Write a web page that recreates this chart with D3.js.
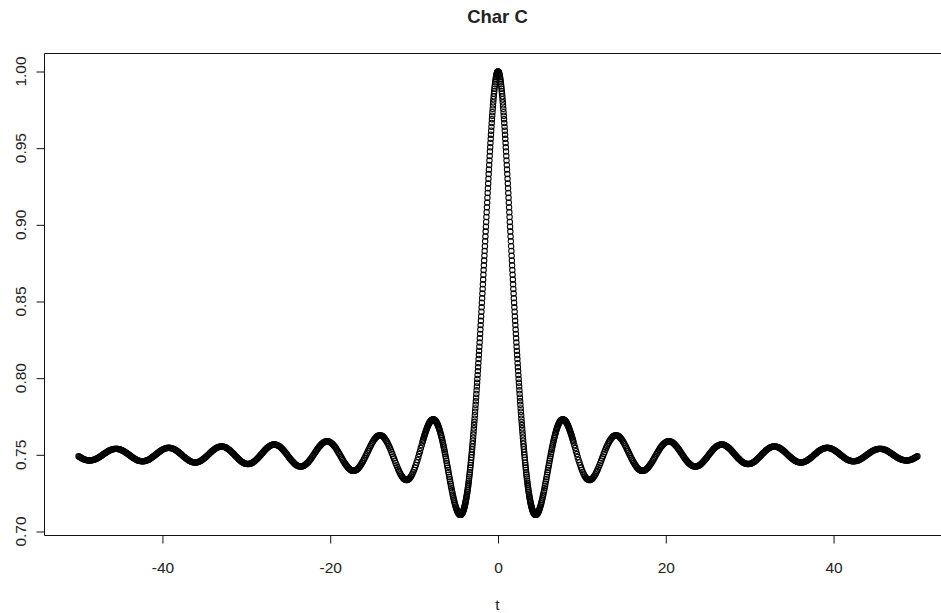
<!DOCTYPE html>
<html>
<head>
<meta charset="utf-8">
<script src="https://cdn.jsdelivr.net/npm/d3@7"></script>
<style>
  body { margin: 0; background: #fff; }
  svg { display: block; }
  text { font-family: "Liberation Sans", Arial, Helvetica, sans-serif; fill: #222; }
</style>
</head>
<body>
<svg id="chart" width="941" height="613"></svg>
<script>
// Characteristic function C(t), sampled on t >= 0; the curve is even, so t < 0 mirrors it.
// Fine sampling around the central peak, coarser along the damped tail.
const charNear = [ // t = 0.00 .. 4.50, step 0.03
  1.0000,0.9999,0.9998,0.9995,0.9991,0.9985,0.9979,0.9972,0.9963,0.9953,
  0.9942,0.9930,0.9917,0.9903,0.9888,0.9872,0.9856,0.9838,0.9819,0.9799,
  0.9779,0.9757,0.9735,0.9712,0.9689,0.9664,0.9639,0.9614,0.9588,0.9561,
  0.9534,0.9506,0.9478,0.9449,0.9420,0.9390,0.9361,0.9331,0.9300,0.9270,
  0.9239,0.9208,0.9177,0.9145,0.9114,0.9082,0.9051,0.9019,0.8988,0.8956,
  0.8924,0.8893,0.8861,0.8830,0.8798,0.8767,0.8736,0.8705,0.8674,0.8643,
  0.8612,0.8582,0.8552,0.8522,0.8492,0.8462,0.8433,0.8403,0.8374,0.8346,
  0.8317,0.8289,0.8261,0.8233,0.8205,0.8178,0.8151,0.8125,0.8098,0.8072,
  0.8046,0.8020,0.7995,0.7970,0.7946,0.7921,0.7897,0.7873,0.7849,0.7826,
  0.7803,0.7781,0.7758,0.7736,0.7715,0.7694,0.7673,0.7652,0.7632,0.7612,
  0.7592,0.7573,0.7554,0.7536,0.7518,0.7500,0.7483,0.7466,0.7449,0.7433,
  0.7417,0.7402,0.7386,0.7372,0.7358,0.7344,0.7330,0.7317,0.7304,0.7292,
  0.7280,0.7268,0.7257,0.7246,0.7236,0.7226,0.7217,0.7208,0.7199,0.7191,
  0.7183,0.7175,0.7168,0.7162,0.7156,0.7150,0.7144,0.7139,0.7135,0.7130,
  0.7127,0.7123,0.7120,0.7117,0.7115,0.7113,0.7112,0.7110,0.7110,0.7109,
  0.7109
];
const charMid = [ // t = 4.55 .. 9.00, step 0.05
  0.7110,0.7111,0.7114,0.7117,0.7121,0.7126,0.7132,0.7139,0.7147,0.7155,
  0.7164,0.7173,0.7183,0.7194,0.7206,0.7217,0.7230,0.7242,0.7256,0.7269,
  0.7283,0.7297,0.7311,0.7326,0.7341,0.7356,0.7371,0.7386,0.7401,0.7416,
  0.7431,0.7446,0.7461,0.7476,0.7490,0.7505,0.7519,0.7533,0.7546,0.7560,
  0.7572,0.7585,0.7597,0.7609,0.7620,0.7631,0.7641,0.7651,0.7660,0.7669,
  0.7677,0.7685,0.7692,0.7698,0.7704,0.7710,0.7714,0.7719,0.7722,0.7725,
  0.7727,0.7729,0.7730,0.7731,0.7731,0.7730,0.7729,0.7728,0.7725,0.7723,
  0.7719,0.7716,0.7711,0.7707,0.7701,0.7696,0.7690,0.7683,0.7676,0.7669,
  0.7662,0.7654,0.7646,0.7637,0.7629,0.7620,0.7611,0.7601,0.7592,0.7582
];
const charFar = [ // t = 9.1 .. 50.0, step 0.1
  0.7563,0.7544,0.7524,0.7505,0.7486,0.7467,0.7450,0.7433,0.7417,
  0.7402,0.7389,0.7377,0.7366,0.7357,0.7349,0.7343,0.7339,0.7336,0.7336,
  0.7336,0.7339,0.7343,0.7348,0.7355,0.7363,0.7372,0.7383,0.7394,0.7406,
  0.7420,0.7433,0.7447,0.7461,0.7476,0.7490,0.7505,0.7519,0.7533,0.7546,
  0.7558,0.7570,0.7581,0.7591,0.7599,0.7607,0.7614,0.7619,0.7623,0.7626,
  0.7627,0.7628,0.7627,0.7624,0.7621,0.7616,0.7610,0.7604,0.7596,0.7587,
  0.7578,0.7568,0.7558,0.7547,0.7535,0.7524,0.7512,0.7501,0.7490,0.7478,
  0.7468,0.7457,0.7448,0.7438,0.7430,0.7422,0.7416,0.7410,0.7405,0.7401,
  0.7398,0.7396,0.7396,0.7396,0.7397,0.7400,0.7403,0.7407,0.7412,0.7418,
  0.7425,0.7432,0.7440,0.7449,0.7457,0.7467,0.7476,0.7486,0.7495,0.7505,
  0.7514,0.7523,0.7532,0.7541,0.7549,0.7556,0.7563,0.7569,0.7574,0.7578,
  0.7582,0.7585,0.7587,0.7588,0.7588,0.7588,0.7586,0.7584,0.7580,0.7576,
  0.7572,0.7566,0.7560,0.7554,0.7547,0.7540,0.7532,0.7524,0.7516,0.7508,
  0.7499,0.7491,0.7483,0.7475,0.7468,0.7461,0.7454,0.7448,0.7443,0.7438,
  0.7434,0.7430,0.7427,0.7425,0.7424,0.7424,0.7424,0.7425,0.7426,0.7429,
  0.7432,0.7436,0.7440,0.7445,0.7451,0.7457,0.7463,0.7469,0.7476,0.7483,
  0.7490,0.7498,0.7505,0.7512,0.7519,0.7525,0.7532,0.7538,0.7543,0.7548,
  0.7553,0.7557,0.7560,0.7563,0.7565,0.7567,0.7567,0.7567,0.7567,0.7566,
  0.7564,0.7561,0.7558,0.7555,0.7550,0.7546,0.7541,0.7535,0.7530,0.7524,
  0.7517,0.7511,0.7505,0.7498,0.7492,0.7486,0.7480,0.7474,0.7469,0.7464,
  0.7459,0.7455,0.7451,0.7447,0.7445,0.7443,0.7441,0.7440,0.7440,0.7440,
  0.7441,0.7442,0.7444,0.7447,0.7450,0.7453,0.7457,0.7462,0.7466,0.7471,
  0.7477,0.7482,0.7488,0.7493,0.7499,0.7505,0.7510,0.7516,0.7521,0.7526,
  0.7531,0.7535,0.7539,0.7543,0.7546,0.7549,0.7551,0.7553,0.7554,0.7555,
  0.7555,0.7554,0.7553,0.7551,0.7549,0.7547,0.7544,0.7540,0.7537,0.7532,
  0.7528,0.7523,0.7518,0.7513,0.7508,0.7503,0.7498,0.7493,0.7488,0.7483,
  0.7478,0.7474,0.7469,0.7466,0.7462,0.7459,0.7456,0.7454,0.7452,0.7451,
  0.7450,0.7450,0.7450,0.7451,0.7452,0.7454,0.7456,0.7459,0.7462,0.7465,
  0.7469,0.7473,0.7477,0.7481,0.7486,0.7490,0.7495,0.7500,0.7505,0.7509,
  0.7514,0.7518,0.7523,0.7527,0.7530,0.7534,0.7537,0.7539,0.7541,0.7543,
  0.7544,0.7545,0.7546,0.7546,0.7545,0.7544,0.7543,0.7541,0.7539,0.7536,
  0.7534,0.7530,0.7527,0.7523,0.7519,0.7515,0.7511,0.7506,0.7502,0.7497,
  0.7493,0.7489,0.7485,0.7481,0.7477,0.7473,0.7470,0.7467,0.7465,0.7463,
  0.7461,0.7459,0.7458,0.7458,0.7458,0.7458,0.7459,0.7460,0.7461,0.7463,
  0.7465,0.7468,0.7471,0.7474,0.7477,0.7481,0.7485,0.7489,0.7493,0.7497,
  0.7501,0.7505,0.7509,0.7513,0.7516,0.7520,0.7523,0.7526,0.7529,0.7532,
  0.7534,0.7536,0.7537,0.7538,0.7539,0.7540,0.7539,0.7539,0.7538,0.7537,
  0.7535,0.7533,0.7531,0.7529,0.7526,0.7523,0.7519,0.7516,0.7512,0.7509,
  0.7505,0.7501,0.7497,0.7493,0.7490,0.7486,0.7483,0.7479,0.7476,0.7474,
  0.7471,0.7469,0.7467,0.7466,0.7464,0.7464,0.7463,0.7463,0.7463,0.7464,
  0.7465,0.7466,0.7468,0.7470,0.7472,0.7475,0.7478,0.7481,0.7484,0.7487,
  0.7491
];

const samplings = [
  { start: 0,    step: 0.03, values: charNear },
  { start: 4.55, step: 0.05, values: charMid },
  { start: 9.1,  step: 0.1,  values: charFar }
];

const chartTitle = "Char C";
const xTitle = "t";
const xTicks = [-40, -20, 0, 20, 40];
const yTicks = [0.70, 0.75, 0.80, 0.85, 0.90, 0.95, 1.00];

// Build the (t, value) points; every positive t also gives its mirror at -t.
const points = [];
samplings.forEach(s => {
  s.values.forEach((v, i) => {
    const t = +(s.start + i * s.step).toFixed(2);
    points.push({ t, v });
    if (t > 0) points.push({ t: -t, v });
  });
});

const svg = d3.select("#chart");
const W = 941, H = 613;
const box = { left: 44, top: 53, bottom: 535, right: 951 };

const x = d3.scaleLinear().domain([-54, 54]).range([45, 951]);
const y = d3.scaleLinear().domain([0.70, 1.00]).range([531.5, 71.5]);

svg.append("rect").attr("width", W).attr("height", H).attr("fill", "#fff");

// Points drawn as open circles
svg.append("g")
  .selectAll("circle")
  .data(points)
  .join("circle")
  .attr("cx", d => x(d.t))
  .attr("cy", d => y(d.v))
  .attr("r", 2.7)
  .attr("fill", "none")
  .attr("stroke", "#000")
  .attr("stroke-width", 1.05);

// Frame around the plotting region
svg.append("path")
  .attr("d", `M${box.right},${box.top + 0.5}H${box.left + 0.5}V${box.bottom + 0.5}H${box.right}`)
  .attr("fill", "none")
  .attr("stroke", "#111")
  .attr("stroke-width", 1);

// Bottom axis
const xAxis = d3.axisBottom(x).tickValues(xTicks).tickSize(8).tickPadding(18)
  .tickFormat(d3.format("d"));
const gx = svg.append("g").attr("transform", `translate(0,${box.bottom + 0.5})`).call(xAxis);
gx.select(".domain").remove();
gx.selectAll(".tick line").attr("stroke", "#111");
gx.selectAll(".tick text").attr("font-size", "15.5px").attr("fill", "#222")
  .style("font-family", '"Liberation Sans", Arial, sans-serif')
  .text(d => d < 0 ? "-" + Math.abs(d) : String(d));

// Left axis with labels turned parallel to the axis
const yAxis = d3.axisLeft(y).tickValues(yTicks).tickSize(8).tickFormat("");
const gy = svg.append("g").attr("transform", `translate(${box.left + 0.5},0)`).call(yAxis);
gy.select(".domain").remove();
gy.selectAll(".tick line").attr("stroke", "#111");
svg.append("g")
  .selectAll("text")
  .data(yTicks)
  .join("text")
  .attr("transform", d => `translate(26,${y(d)}) rotate(-90)`)
  .attr("text-anchor", "middle")
  .attr("font-size", "15.5px")
  .text(d3.format(".2f"));

// Titles
svg.append("text")
  .attr("x", 497.5).attr("y", 23)
  .attr("text-anchor", "middle")
  .attr("font-size", "18.5px")
  .attr("font-weight", "bold")
  .attr("fill", "#000")
  .text(chartTitle);

svg.append("text")
  .attr("x", 497.5).attr("y", 610)
  .attr("text-anchor", "middle")
  .attr("font-size", "15.5px")
  .text(xTitle);
</script>
</body>
</html>
